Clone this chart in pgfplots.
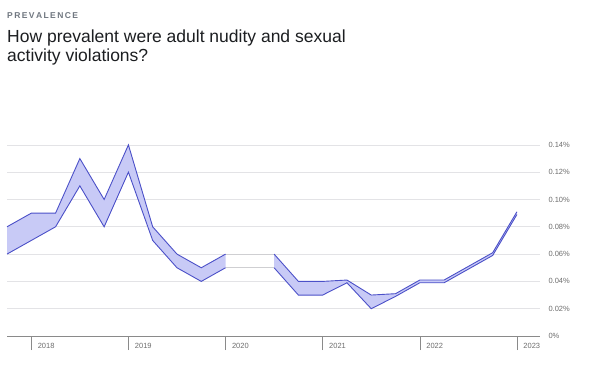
\documentclass[border=0pt]{standalone}
\usepackage{pgfplots}
\pgfplotsset{compat=1.18}
\usepackage{fontspec}
\setmainfont{Liberation Sans}
\definecolor{bandline}{HTML}{4B50C8}
\definecolor{bandfill}{HTML}{C8CAF6}
\definecolor{gridc}{HTML}{E3E3E6}
\definecolor{axisc}{HTML}{8A8A8A}
\definecolor{labc}{HTML}{6E6E6E}
\definecolor{titc}{HTML}{1C1E21}
\definecolor{kickc}{HTML}{707780}
\begin{document}
\begin{tikzpicture}
\path[use as bounding box,fill=white] (0pt,0pt) rectangle (600pt,-370pt);
\node[anchor=base west,inner sep=0pt,text=kickc,font=\fontsize{8.5}{10}\selectfont\bfseries] at (7pt,-18pt) {P\,R\,E\,V\,A\,L\,E\,N\,C\,E};
\node[anchor=base west,inner sep=0pt,text=titc,font=\fontsize{17.5}{19.5}\selectfont] at (7pt,-42pt) {How prevalent were adult nudity and sexual};
\node[anchor=base west,inner sep=0pt,text=titc,font=\fontsize{17.5}{19.5}\selectfont] at (7pt,-61pt) {activity violations?};
\begin{axis}[
  at={(7pt,-336pt)}, anchor=south west,
  scale only axis, width=533pt, height=204.75pt,
  xmin=0, xmax=21.95, ymin=0, ymax=0.15,
  axis line style={draw=none},
  axis x line*=bottom,
  axis y line*=right,
  ytick={0,0.02,...,0.14},
  yticklabels={0\%,0.02\%,0.04\%,0.06\%,0.08\%,0.10\%,0.12\%,0.14\%},
  yticklabel style={font=\fontsize{7.5}{8}\selectfont, text=labc, anchor=west, xshift=-9pt},
  ymajorgrids, grid style={gridc, line width=0.8pt},
  major y tick style={draw=none},
  xtick={1,5,9,13,17,21},
  xticklabels={2018,2019,2020,2021,2022,2023},
  xticklabel style={font=\fontsize{7.5}{8}\selectfont, text=labc, anchor=north west, xshift=3pt, yshift=10pt},
  major x tick style={axisc, line width=0.6pt},
  tick align=outside, major tick length=14pt,
  clip=false,
  /pgf/number format/assume math mode=true,
]
\draw[axisc, line width=0.7pt] (axis cs:0,0) -- (axis cs:21.95,0);
\addplot[fill=bandfill, draw=none] coordinates {
(0,0.08) (1,0.09) (2,0.09) (3,0.13) (4,0.10) (5,0.14) (6,0.08) (7,0.06) (8,0.05) (9,0.06)
(9,0.05) (8,0.04) (7,0.05) (6,0.07) (5,0.12) (4,0.08) (3,0.11) (2,0.08) (1,0.07) (0,0.06)} -- cycle;
\addplot[fill=bandfill, draw=none] coordinates {
(11,0.06) (12,0.04) (13,0.04) (14,0.041) (15,0.03) (16,0.031) (17,0.041) (18,0.041) (19,0.051) (20,0.061) (21,0.091)
(21,0.089) (20,0.059) (19,0.049) (18,0.039) (17,0.039) (16,0.029) (15,0.02) (14,0.039) (13,0.03) (12,0.03) (11,0.05)} -- cycle;
\addplot[gridc!80!gray, line width=0.7pt] coordinates {(9,0.06) (11,0.06)};
\addplot[gridc!80!gray, line width=0.7pt] coordinates {(9,0.05) (11,0.05)};
\addplot[bandline, line width=0.9pt] coordinates {
(0,0.08) (1,0.09) (2,0.09) (3,0.13) (4,0.10) (5,0.14) (6,0.08) (7,0.06) (8,0.05) (9,0.06)};
\addplot[bandline, line width=0.9pt] coordinates {
(0,0.06) (1,0.07) (2,0.08) (3,0.11) (4,0.08) (5,0.12) (6,0.07) (7,0.05) (8,0.04) (9,0.05)};
\addplot[bandline, line width=0.9pt] coordinates {
(11,0.06) (12,0.04) (13,0.04) (14,0.041) (15,0.03) (16,0.031) (17,0.041) (18,0.041) (19,0.051) (20,0.061) (21,0.091)};
\addplot[bandline, line width=0.9pt] coordinates {
(11,0.05) (12,0.03) (13,0.03) (14,0.039) (15,0.02) (16,0.029) (17,0.039) (18,0.039) (19,0.049) (20,0.059) (21,0.089)};
\end{axis}
\end{tikzpicture}
\end{document}
